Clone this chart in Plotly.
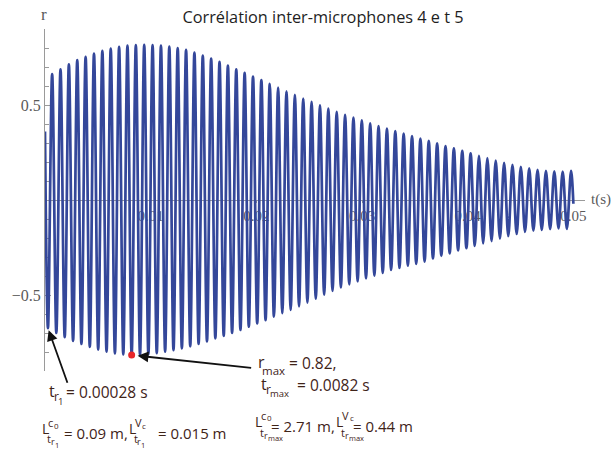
import plotly.graph_objects as go

# ---------------- data ----------------
t_first_trough = 0.00028      # s, first negative extremum (t_r1)
period = 0.000792             # s, oscillation period
t_start, r_start = 0.0, 0.36
t_end, r_end = 0.05, -0.02

# positive extrema (one per cycle, k = 0..62)
peak_r = [0.663, 0.688, 0.714, 0.736, 0.754, 0.771, 0.785, 0.797, 0.806, 0.812,
          0.815, 0.816, 0.815, 0.812, 0.807, 0.800, 0.790, 0.776, 0.760, 0.744,
          0.727, 0.708, 0.688, 0.669, 0.650, 0.631, 0.611, 0.592, 0.572, 0.553,
          0.534, 0.516, 0.498, 0.481, 0.464, 0.448, 0.434, 0.419, 0.404, 0.389,
          0.376, 0.362, 0.349, 0.336, 0.323, 0.311, 0.298, 0.284, 0.272, 0.259,
          0.246, 0.233, 0.221, 0.208, 0.196, 0.185, 0.175, 0.166, 0.159, 0.154,
          0.151, 0.150, 0.153]
# negative extrema (k = 0..62)
trough_r = [-0.675, -0.700, -0.722, -0.742, -0.758, -0.773, -0.787, -0.798, -0.807, -0.813,
            -0.816, -0.816, -0.812, -0.806, -0.798, -0.790, -0.781, -0.770, -0.758, -0.744,
            -0.728, -0.715, -0.700, -0.684, -0.667, -0.650, -0.632, -0.614, -0.596, -0.578,
            -0.560, -0.540, -0.519, -0.498, -0.478, -0.460, -0.444, -0.428, -0.412, -0.398,
            -0.384, -0.368, -0.358, -0.346, -0.336, -0.324, -0.308, -0.294, -0.281, -0.265,
            -0.254, -0.241, -0.228, -0.216, -0.203, -0.190, -0.179, -0.168, -0.161, -0.157,
            -0.153, -0.150, -0.152]

rmax_t = [0.0082]
rmax_r = [-0.816]

x_tickvals = [0.01, 0.02, 0.03, 0.04, 0.05]
x_ticktext = ["0.01", "0.02", "0.03", "0.04", "0.05"]
y_tickvals = [-0.5, 0.5]
y_ticktext = ["\u22120.5", "0.5"]

title_text = "Corrélation inter-microphones 4 e t 5"

# ---------------- build the curve through the extrema ----------------
t_pts = [t_start]
r_pts = [r_start]
for k in range(len(peak_r)):
    t_tr = t_first_trough + k * period
    t_pts += [t_tr, t_tr + period / 2]
    r_pts += [trough_r[k], peak_r[k]]
t_pts.append(t_end)
r_pts.append(r_end)

# ---------------- layout geometry ----------------
W, H = 612, 454
PL, PR, PT, PB = 42, 585, 29, 371   # plot area in pixels
PW, PH = PR - PL, PB - PT

def pxx(px):
    return (px - PL) / PW

def pyy(py):
    return (PB - py) / PH

fig = go.Figure()
fig.add_trace(go.Scatter(x=t_pts, y=r_pts, mode="lines",
                         line=dict(color="#34479a", width=2.7, shape="spline", smoothing=1.0),
                         hoverinfo="skip", showlegend=False))
fig.add_trace(go.Scatter(x=rmax_t, y=rmax_r, mode="markers",
                         marker=dict(color="#e8262a", size=7), showlegend=False))

SERIF = "Liberation Serif"
SANS = "Open Sans"
AX_COL = "#9a9a9a"
LBL_COL = "#5a5a5a"
TXT = "#3f2419"

fig.update_layout(
    width=W, height=H,
    margin=dict(l=PL, r=W - PR, t=PT, b=H - PB, pad=0),
    paper_bgcolor="white", plot_bgcolor="white",
    title=dict(text=title_text, x=323 / W, xanchor="center", xref="container",
               y=1 - 17 / H, yanchor="middle",
               font=dict(family=SANS, size=16.3, color="#1e1e1e")),
    xaxis=dict(range=[0, 0.0511], anchor="free", position=0.5,
               showline=True, linecolor=AX_COL, linewidth=1,
               showgrid=False, zeroline=False,
               tickvals=x_tickvals, ticktext=x_ticktext,
               ticks="outside", ticklen=2, tickcolor=AX_COL,
               tickfont=dict(family=SERIF, size=15, color=LBL_COL),
               layer="below traces"),
    yaxis=dict(range=[-0.9, 0.9], showline=True, linecolor=AX_COL, linewidth=1,
               showgrid=False, zeroline=False,
               tickvals=y_tickvals, ticktext=y_ticktext,
               ticks="inside", ticklen=6, tickcolor=AX_COL,
               minor=dict(dtick=0.1, tick0=0, ticks="inside", ticklen=3.5, tickcolor=AX_COL),
               tickfont=dict(family=SERIF, size=16, color=LBL_COL),
               layer="below traces"),
)

anns = []

def txt(s, px, py, size, family=SANS, color=TXT, xanchor="left"):
    anns.append(dict(text=s, x=pxx(px), y=pyy(py), xref="paper", yref="paper",
                     xanchor=xanchor, yanchor="middle", showarrow=False,
                     font=dict(family=family, size=size, color=color), borderpad=0))

# axis names
txt("r", 41, 14, 17, family=SERIF, color=LBL_COL, xanchor="center")
txt("t(s)", 590, 199, 15, family=SERIF, color=LBL_COL)

# t_r1 = 0.00028 s
txt("t", 45, 391, 16)
txt("r", 50, 396, 12)
txt("1", 54.5, 401, 9.5)
txt("= 0.00028 s", 62, 392, 15.5)

# r_max = 0.82,
txt("r", 255, 362, 16)
txt("max", 259.5, 370, 11.5)
txt("= 0.82,", 286, 363, 15.5)
# t_rmax = 0.0082 s
txt("t", 258, 384, 16)
txt("r", 263, 389, 12)
txt("max", 267.5, 393, 9.5)
txt("= 0.0082 s", 294, 385, 15.5)

def L_block(x0, y0, sup1, sup2, subsub, main_text, x_main, y_main):
    txt("L", x0, y0, 14)
    txt(sup1, x0 + 6, y0 - 6, 11)
    txt(sup2, x0 + 6 + (6 if sup1 == "c" else 7.5), y0 - 3, 8)
    txt("t", x0 + 5, y0 + 11, 11)
    txt("r", x0 + 9, y0 + 14, 9)
    txt(subsub, x0 + 13, y0 + 17, 7.5)
    txt(main_text, x_main, y_main, 15)

# left line
L_block(38, 428, "c", "0", "1", "= 0.09 m,", 60, 433)
L_block(125, 428, "V", "c", "1", "= 0.015 m", 155, 433)
# right line
L_block(252, 421, "c", "0", "max", "= 2.71 m,", 268, 426)
L_block(334, 421, "V", "c", "max", "= 0.44 m", 351, 426)

# arrows
anns.append(dict(x=t_first_trough, y=trough_r[0], xref="x", yref="y", ax=20, ay=56,
                 showarrow=True, arrowhead=2, arrowsize=1.2, arrowwidth=1.8,
                 arrowcolor="#111111", standoff=2, text=""))
anns.append(dict(x=rmax_t[0], y=rmax_r[0], xref="x", yref="y", ax=121, ay=13,
                 showarrow=True, arrowhead=2, arrowsize=1.2, arrowwidth=1.8,
                 arrowcolor="#111111", standoff=6, text=""))

fig.update_layout(annotations=anns)
fig.write_html("out.html")
